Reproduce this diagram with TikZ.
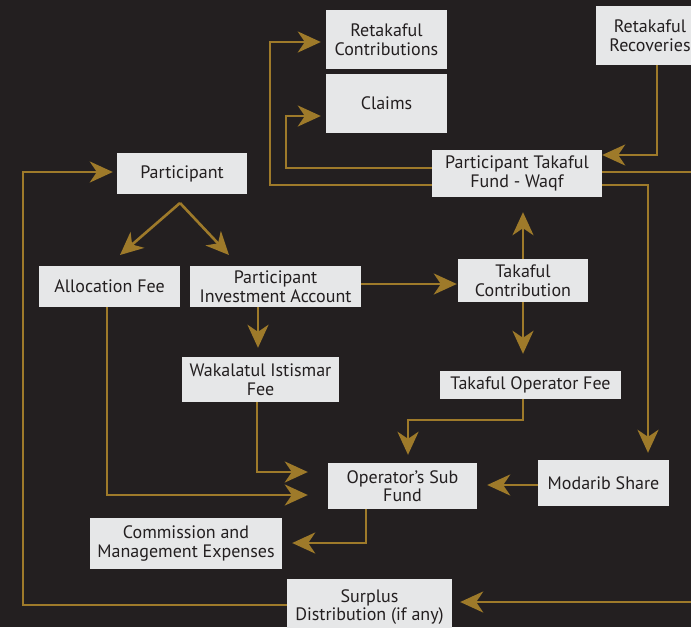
\documentclass[tikz,border=0pt]{standalone}
\usepackage{fontspec}
\setmainfont{PT Sans}
\usetikzlibrary{arrows.meta,calc}
\definecolor{bg}{HTML}{231F20}
\definecolor{boxc}{HTML}{E6E7E8}
\definecolor{gold}{HTML}{9E7A2A}
\begin{document}
\begin{tikzpicture}[x=1pt,y=-1pt,
  box/.style={fill=boxc,text=bg,font=\fontsize{18}{18.5}\selectfont,align=center,inner sep=0pt,anchor=center},
  con/.style={draw=gold,line width=2.6pt},
  arr/.style={con,-{Stealth[length=23pt,width=21pt,inset=7pt]}}]
\fill[bg] (0,0) rectangle (691,627);
\useasboundingbox (0,0) rectangle (691,627);
\clip (0,0) rectangle (691,627);
% nodes
\node[box,minimum width=121pt,minimum height=59pt] (rc) at (386.5,39.5) {Retakaful\\Contributions};
\node[box,minimum width=121pt,minimum height=59pt] (cl) at (386.5,103.5) {Claims};
\node[box,minimum width=108pt,minimum height=59pt] (rr) at (650,35.5) {Retakaful\\Recoveries};
\node[box,minimum width=170pt,minimum height=47pt] (ptf) at (517,173.5) {Participant Takaful\\Fund - Waqf};
\node[box,minimum width=130pt,minimum height=41pt] (par) at (182,173.5) {Participant};
\node[box,minimum width=141pt,minimum height=41pt] (af) at (109.5,286.5) {Allocation Fee};
\node[box,minimum width=171pt,minimum height=41pt] (pia) at (275.5,286.5) {Participant\\Investment Account};
\node[box,minimum width=157pt,minimum height=45pt] (wif) at (260.5,379.5) {Wakalatul Istismar\\Fee};
\node[box,minimum width=130pt,minimum height=43pt] (tc) at (523,280.5) {Takaful\\Contribution};
\node[box,minimum width=181pt,minimum height=28pt] (tof) at (530.5,385) {Takaful Operator Fee};
\node[box,minimum width=149pt,minimum height=46pt] (osf) at (402.5,486) {Operator’s Sub\\Fund};
\node[box,minimum width=131pt,minimum height=46pt] (ms) at (603.5,483) {Modarib Share};
\node[box,minimum width=192pt,minimum height=51pt] (cme) at (186,543.5) {Commission and\\Management Expenses};
\node[box,minimum width=165pt,minimum height=56pt] (sd) at (369.5,607) {Surplus\\Distribution (if any)};
% free-end coordinates
\coordinate (apex) at (180,203);
\coordinate (afin) at (120,255);
\coordinate (piain) at (229,255);
% connectors
\draw[arr,shorten >=5pt] (ptf.west |- 0,168) -- (286,168) -- (286,116) -- (cl.west |- 0,116);
\draw[arr,shorten >=5pt] (ptf.west |- 0,185) -- (270,185) -- (270,42) -- (rc.west |- 0,42);
\draw[arr] (rr.south -| 657,0) -- (657,155) -- (ptf.east |- 0,155);
\draw[arr,shorten >=8pt] (ptf.east |- 0,172) -- (720,172) -- (720,602) -- (sd.east |- 0,602);
\draw[arr,shorten >=7pt] (ptf.east |- 0,185) -- (648,185) -- (ms.north -| 648,0);
\draw[arr] (apex) -- (afin);
\draw[arr] (apex) -- (piain);
\draw[arr,shorten >=4pt] (sd.west |- 0,605) -- (23,605) -- (23,172) -- (par.west |- 0,172);
\draw[arr,shorten >=1pt] (pia.east |- 0,284) -- (tc.west |- 0,284);
\draw[arr,shorten >=9pt] (pia.south -| 258,0) -- (wif.north -| 258,0);
\draw[arr,shorten >=15pt] (tc.north) -- (ptf.south -| tc.north);
\draw[arr,shorten >=17pt] (tc.south) -- (tof.north -| tc.south);
\draw[arr,shorten >=8pt] (tof.south -| 523,0) -- (523,420) -- (408,420) -- (osf.north -| 408,0);
\draw[arr,shorten >=20pt] (wif.south -| 257,0) -- (257,472) -- (osf.west |- 0,472);
\draw[arr,shorten >=20pt] (af.south -| 107,0) -- (107,495) -- (osf.west |- 0,495);
\draw[arr,shorten >=10pt] (ms.west |- 0,485) -- (osf.east |- 0,485);
\draw[arr,shorten >=10pt] (osf.south -| 366,0) -- (366,543) -- (cme.east |- 0,543);
\end{tikzpicture}
\end{document}
